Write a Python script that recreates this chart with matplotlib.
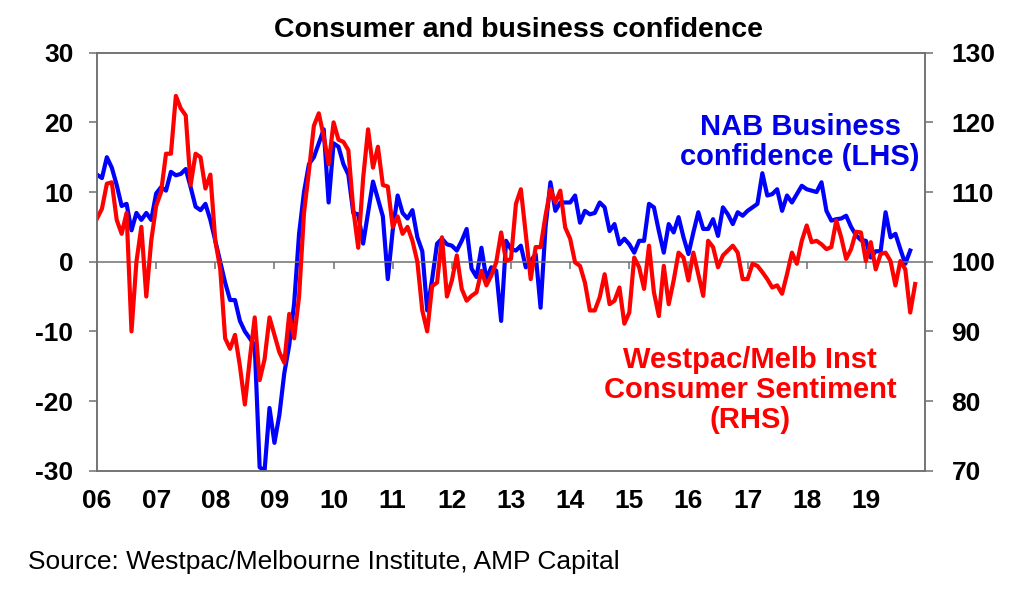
import numpy as np
import matplotlib
matplotlib.use("Agg")
import matplotlib.pyplot as plt

plt.rcParams["font.family"] = ["Liberation Sans", "DejaVu Sans"]
plt.rcParams["font.weight"] = "bold"
plt.rcParams["axes.unicode_minus"] = False

# monthly data, Jan 2006 onwards
nab_business = [
    12.5, 12, 15, 13.5, 11, 8, 8.3, 4.5, 7, 6, 7, 6,                      # 2006
    9.8, 10.7, 10.2, 12.9, 12.4, 12.6, 13.3, 10.7, 7.9, 7.4, 8.3, 6,      # 2007
    3, 0, -3, -5.5, -5.5, -8.5, -10, -11, -12, -29.5, -30, -21,            # 2008
    -26, -22, -16, -12, -6, 4, 10, 14, 15, 17, 19, 8.5,                   # 2009
    17, 16.5, 14, 12.5, 7, 6.8, 2.6, 7, 11.5, 9, 6.5, -2.5,               # 2010
    4.5, 9.5, 7, 6.2, 7.4, 3.5, 1.5, -7, -2.5, 2.6, 3.3, 2.5,             # 2011
    2.3, 1.6, 3, 4.7, -1, -2.2, 2, -2.5, -0.8, -1.3, -8.5, 3,             # 2012
    1.8, 1.6, 2.3, -0.8, 0.1, 1.1, -6.6, 4.9, 11.4, 7.3, 8.5, 8.5,        # 2013
    8.5, 9.5, 5.6, 7.3, 6.8, 7, 8.5, 7.8, 4.4, 5.4, 2.5, 3.3,             # 2014
    2.5, 1.3, 3, 3, 8.3, 7.8, 4.4, 1.3, 5.4, 4.2, 6.4, 3.5,               # 2015
    1.1, 4.2, 7.1, 4.7, 4.7, 6.1, 3.7, 7.8, 6.8, 5.4, 7.1, 6.6,           # 2016
    7.3, 7.8, 8.3, 12.7, 9.5, 9.7, 10.4, 7.3, 9.5, 8.5, 9.7, 10.9,        # 2017
    10.4, 10.2, 10, 11.4, 7.3, 5.9, 6.1, 6.2, 6.6, 5, 3.8, 3.1,           # 2018
    3, 0.6, 1.5, 1.5, 7.1, 3.5, 4, 1.8, -0.3, 1.6,                        # 2019
]

westpac_sentiment = [
    106.2, 107.6, 111.2, 111.4, 106, 104, 107, 90, 100, 105, 95, 103,
    108, 110, 115.5, 115.5, 123.8, 122, 121, 111, 115.5, 115, 110.5, 112.5,
    103, 99, 89, 87.5, 89.5, 85, 79.5, 86, 92, 83, 86, 92,
    89.5, 87, 85.5, 92.5, 89, 95, 107, 113, 119.5, 121.3, 118, 114,
    120, 117.5, 117.2, 116, 107.5, 102, 112, 119, 113.5, 116.5, 111, 110.8,
    105, 106.5, 104, 105, 103, 100, 93, 90, 96.5, 97, 103.5, 95,
    97.3, 100.9, 96.1, 94.4, 95.1, 95.6, 98.7, 96.6, 98, 99.9, 104.2, 100.1,
    100.4, 108.3, 110.4, 104, 97.5, 102.1, 102.1, 106.6, 110.4, 108.5, 110.2, 104.9,
    103.3, 99.9, 99.4, 97, 93, 93, 94.9, 98.2, 93.9, 94.4, 96.3, 91.1,
    92.7, 100.6, 99.2, 96.1, 102.3, 95.6, 92.2, 99.4, 93.9, 97.3, 101.3, 100.6,
    97.3, 101.3, 98.2, 95.1, 103, 102.1, 99.2, 100.9, 101.6, 102.3, 101.3, 97.5,
    97.5, 99.7, 99.4, 98.5, 97.5, 96.3, 96.6, 95.4, 98.2, 101.3, 99.7, 103,
    105.2, 102.8, 103, 102.5, 101.8, 102.1, 105.9, 103.5, 100.4, 101.8, 104.3, 104.2,
    100.1, 102.8, 98.9, 101.1, 101.3, 100.1, 96.6, 100.1, 98.9, 92.7, 96.8,
]

years = list(range(2006, 2020))
year_labels = [f"{y % 100:02d}" for y in years]
left_ticks = [-30, -20, -10, 0, 10, 20, 30]
right_ticks = [70, 80, 90, 100, 110, 120, 130]

W, H = 1024, 589
x_nab = 2006 + np.arange(len(nab_business)) / 12
x_wbc = 2006 + np.arange(len(westpac_sentiment)) / 12

fig = plt.figure(figsize=(W / 100, H / 100), dpi=100)
ax = fig.add_axes([97 / W, 1 - 470.7 / H, 828 / W, 418 / H])
ax2 = ax.twinx()

spine_col = "#707070"
ax.plot(x_nab, nab_business, color="#0000FF", lw=3.0, solid_joinstyle="round")
ax2.plot(x_wbc, westpac_sentiment, color="#FF0000", lw=3.0, solid_joinstyle="round")

ax.set_xlim(2006, 2020)
ax.set_ylim(-30, 30)
ax2.set_ylim(70, 130)

ax.axhline(0, color=spine_col, lw=1.1)
ax.vlines(years, -1, 0, color=spine_col, lw=1.1)

for a in (ax, ax2):
    for s in a.spines.values():
        s.set_color(spine_col)
        s.set_linewidth(1.1)

ax.set_yticks(left_ticks)
ax2.set_yticks(right_ticks)
ax.set_xticks(years)
ax.set_xticklabels(year_labels)
ax.tick_params(axis="x", length=0, pad=13, labelsize=19)
ax.tick_params(axis="y", direction="out", length=6, width=1.1, color=spine_col, labelsize=19, pad=11)
ax2.tick_params(axis="y", direction="out", length=6, width=1.1, color=spine_col, labelsize=19, pad=13)

fig.text(518 / W, 1 - 30 / H, "Consumer and business confidence", ha="center", va="center",
         fontsize=20.5, fontweight="bold")
fig.text(800 / W, 1 - 142 / H, "NAB Business\nconfidence (LHS)", ha="center", va="center",
         fontsize=21, fontweight="bold", color="#0000E6", linespacing=1.08)
fig.text(750 / W, 1 - 390 / H, "Westpac/Melb Inst\nConsumer Sentiment\n(RHS)", ha="center",
         va="center", fontsize=21, fontweight="bold", color="#FF0000", linespacing=1.07)
fig.text(28 / W, 1 - 562 / H, "Source: Westpac/Melbourne Institute, AMP Capital", ha="left",
         va="center", fontsize=19, fontweight="normal")

fig.savefig("out.png", dpi=100)
